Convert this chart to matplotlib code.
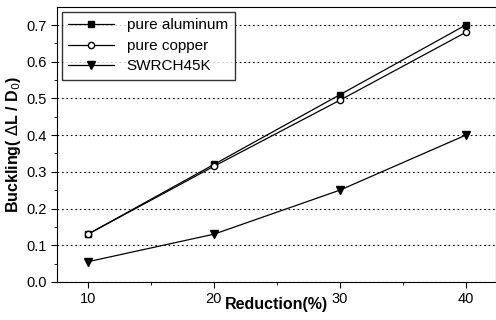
import matplotlib.pyplot as plt
from matplotlib.ticker import MultipleLocator

plt.rcParams['font.family'] = ['Liberation Sans', 'DejaVu Sans']

reduction = [10, 20, 30, 40]
aluminum = [0.13, 0.32, 0.51, 0.70]
copper = [0.13, 0.315, 0.495, 0.68]
swrch45k = [0.055, 0.13, 0.25, 0.40]

fig = plt.figure(figsize=(4.96, 3.2), dpi=100)
ax = fig.add_axes([0.115, 0.119, 0.885, 0.859])

ax.plot(reduction, aluminum, color="black", lw=0.9, marker="s", ms=4.5,
        mfc="black", label="pure aluminum")
ax.plot(reduction, copper, color="black", lw=0.9, marker="o", ms=4.5,
        mfc="white", label="pure copper")
ax.plot(reduction, swrch45k, color="black", lw=0.9, marker="v", ms=5.5,
        mfc="black", label="SWRCH45K")

ax.set_xlim(7.55, 42.4)
ax.set_ylim(0, 0.749)
ax.set_xticks([10, 20, 30, 40])
ax.set_yticks([0.0, 0.1, 0.2, 0.3, 0.4, 0.5, 0.6, 0.7])
ax.xaxis.set_minor_locator(MultipleLocator(5))
ax.yaxis.set_minor_locator(MultipleLocator(0.05))
ax.tick_params(which="major", direction="out", length=4, labelsize=10.5)
ax.tick_params(which="minor", direction="out", length=2)
ax.yaxis.grid(True, linestyle=(0, (1.5, 2.5)), color="black", lw=0.8)

ax.set_xlabel("Reduction(%)", fontsize=11.5, fontweight="bold", labelpad=-7)
ax.set_ylabel(r"Buckling( $\Delta$L / D$_0$)", fontsize=11.5, fontweight="bold",
              labelpad=2)

leg = ax.legend(loc="upper left", frameon=True, fancybox=False,
                edgecolor="black", handlelength=3.0, borderpad=0.45,
                labelspacing=0.42, handletextpad=0.8, borderaxespad=0.3,
                prop={"size": 11})
leg.get_frame().set_linewidth(1.0)

fig.savefig("out.png", dpi=100)
